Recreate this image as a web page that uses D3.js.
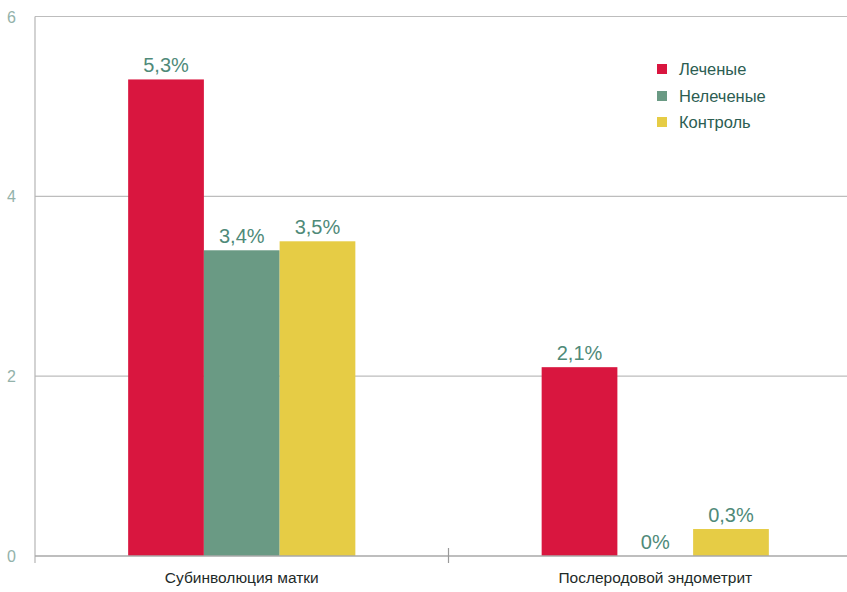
<!DOCTYPE html>
<html>
<head>
<meta charset="utf-8">
<script src="https://cdn.jsdelivr.net/npm/d3@7"></script>
<style>
  html, body { margin: 0; padding: 0; background: #fff; }
  svg { display: block; }
</style>
</head>
<body>
<svg id="chart" width="847" height="592"></svg>
<script>
// Categories, series and values (percent)
const categories = ["Субинволюция матки", "Послеродовой эндометрит"];
const seriesNames = ["Леченые", "Нелеченые", "Контроль"];
const seriesColors = ["#d9163f", "#6a9a84", "#e6cc45"];
const valuesTreated = [5.3, 2.1];
const valuesUntreated = [3.4, 0];
const valuesControl = [3.5, 0.3];
const valueLabels = [["5,3%", "3,4%", "3,5%"], ["2,1%", "0%", "0,3%"]];
const yTicks = [0, 2, 4, 6];

const seriesValues = [valuesTreated, valuesUntreated, valuesControl];
const data = categories.map((c, i) => ({
  category: c,
  bars: seriesNames.map((s, j) => ({ series: s, value: seriesValues[j][i], label: valueLabels[i][j], color: seriesColors[j] }))
}));

const svg = d3.select("#chart");
const plotLeft = 35, plotRight = 862, plotTop = 16.5, plotBottom = 556;
const fontNarrow = "'Liberation Sans Narrow', 'Arial Narrow', 'Liberation Sans', sans-serif";

const x0 = d3.scaleBand().domain(categories).range([plotLeft, plotRight]).paddingInner(0).paddingOuter(0);
const x1 = d3.scaleBand().domain(seriesNames).range([0, x0.bandwidth()]).paddingInner(0).paddingOuter(1.23);
const y = d3.scaleLinear().domain([0, 6]).range([plotBottom, plotTop]);

// Horizontal gridlines
svg.append("g")
  .selectAll("line")
  .data(yTicks.filter(t => t > 0))
  .join("line")
  .attr("x1", plotLeft).attr("x2", 847)
  .attr("y1", d => y(d)).attr("y2", d => y(d))
  .attr("stroke", "#bdbdbd").attr("stroke-width", 1.2);

// Left axis line
svg.append("line")
  .attr("x1", plotLeft).attr("x2", plotLeft)
  .attr("y1", y(6)).attr("y2", plotBottom + 7)
  .attr("stroke", "#b5b5b5").attr("stroke-width", 1.2);

// Y tick labels
const yAxis = d3.axisLeft(y).tickValues(yTicks).tickSize(0).tickPadding(0).tickFormat(d3.format("d"));
const gy = svg.append("g").attr("transform", `translate(${plotLeft - 19},0)`).call(yAxis);
gy.select(".domain").remove();
gy.selectAll("text")
  .attr("font-family", fontNarrow)
  .attr("font-size", 16)
  .attr("fill", "#93b2aa")
  .attr("dy", "0.35em");

// Bars
const groups = svg.append("g")
  .selectAll("g")
  .data(data)
  .join("g")
  .attr("transform", d => `translate(${x0(d.category)},0)`);

groups.selectAll("rect")
  .data(d => d.bars)
  .join("rect")
  .attr("x", d => x1(d.series))
  .attr("width", x1.bandwidth())
  .attr("y", d => y(d.value))
  .attr("height", d => y(0) - y(d.value))
  .attr("fill", d => d.color);

// Value labels
groups.selectAll("text")
  .data(d => d.bars)
  .join("text")
  .attr("x", d => x1(d.series) + x1.bandwidth() / 2)
  .attr("y", d => y(d.value) - 7)
  .attr("text-anchor", "middle")
  .attr("font-family", fontNarrow)
  .attr("font-size", 20)
  .attr("fill", "#4f8a79")
  .text(d => d.label);

// Bottom axis
svg.append("line")
  .attr("x1", plotLeft).attr("x2", 847)
  .attr("y1", plotBottom).attr("y2", plotBottom)
  .attr("stroke", "#a8a8a8").attr("stroke-width", 1.5);

const xAxis = d3.axisBottom(x0).tickSize(0).tickPadding(0);
const gx = svg.append("g").attr("transform", `translate(0,${plotBottom})`).call(xAxis);
gx.select(".domain").remove();
gx.selectAll("text")
  .attr("y", 27)
  .attr("dy", 0)
  .attr("font-family", fontNarrow)
  .attr("font-size", 15.5)
  .attr("fill", "#1e2a28");

// Category separator tick
svg.append("line")
  .attr("x1", x0(categories[1])).attr("x2", x0(categories[1]))
  .attr("y1", plotBottom - 8).attr("y2", plotBottom + 7)
  .attr("stroke", "#9a9a9a").attr("stroke-width", 1.2);

// Legend
const legend = svg.append("g").attr("transform", "translate(657,0)");
const legendRows = [69, 96, 122];
seriesNames.forEach((s, i) => {
  legend.append("rect")
    .attr("x", 0).attr("y", legendRows[i] - 5)
    .attr("width", 10).attr("height", 10)
    .attr("fill", seriesColors[i]);
  legend.append("text")
    .attr("x", 22).attr("y", legendRows[i])
    .attr("dy", "0.35em")
    .attr("font-family", fontNarrow)
    .attr("font-size", 16.5)
    .attr("fill", "#2c5d52")
    .text(s);
});
</script>
</body>
</html>
